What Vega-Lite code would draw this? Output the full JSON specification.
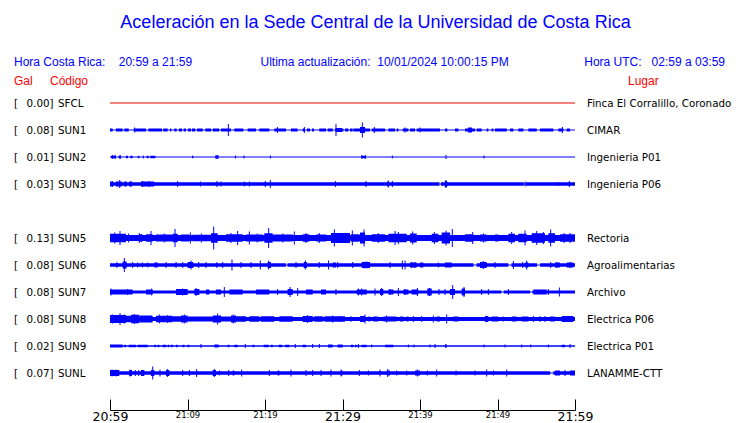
{
  "$schema": "https://vega.github.io/schema/vega-lite/v6.json",
  "width": 465,
  "height": 270,
  "autosize": {"type": "none"},
  "padding": {"left": 110, "top": 103, "right": 165, "bottom": 50},
  "background": "#ffffff",
  "config": {"view": {"stroke": null}, "font": "DejaVu Sans"},
  "datasets": {
    "stations": [
      {"s": "SFCL", "gal": 0.00, "lugar": "Finca El Corralillo, Coronado", "ruido": 1, "estado": "sin datos"},
      {"s": "SUN1", "gal": 0.08, "lugar": "CIMAR", "ruido": 1, "estado": "activa"},
      {"s": "SUN2", "gal": 0.01, "lugar": "Ingenieria P01", "ruido": 1.2, "estado": "activa"},
      {"s": "SUN3", "gal": 0.03, "lugar": "Ingenieria P06", "ruido": 1, "estado": "activa"},
      {"s": "SUN5", "gal": 0.13, "lugar": "Rectoria", "ruido": 6, "estado": "activa"},
      {"s": "SUN6", "gal": 0.08, "lugar": "Agroalimentarias", "ruido": 1, "estado": "activa"},
      {"s": "SUN7", "gal": 0.08, "lugar": "Archivo", "ruido": 1, "estado": "activa"},
      {"s": "SUN8", "gal": 0.08, "lugar": "Electrica P06", "ruido": 4, "estado": "activa"},
      {"s": "SUN9", "gal": 0.02, "lugar": "Electrica P01", "ruido": 1.3, "estado": "activa"},
      {"s": "SUNL", "gal": 0.07, "lugar": "LANAMME-CTT", "ruido": 1, "estado": "activa"}
    ],
    "seg": [
      {"s":"SUN1","a":0,"b":0.34,"w":3},{"s":"SUN1","a":0.77,"b":1.63,"w":3},{"s":"SUN1","a":1.85,"b":2.41,"w":3},{"s":"SUN1","a":3.05,"b":4.65,"w":3},{"s":"SUN1","a":4.95,"b":6.71,"w":3},{"s":"SUN1","a":6.88,"b":7.44,"w":3},{"s":"SUN1","a":7.74,"b":7.91,"w":3},{"s":"SUN1","a":8.3,"b":8.6,"w":3},{"s":"SUN1","a":8.9,"b":9.29,"w":3},{"s":"SUN1","a":9.5,"b":9.8,"w":3},{"s":"SUN1","a":10.06,"b":10.45,"w":3},{"s":"SUN1","a":10.58,"b":11.01,"w":3},{"s":"SUN1","a":11.23,"b":11.96,"w":3},{"s":"SUN1","a":12.3,"b":13.03,"w":3},{"s":"SUN1","a":13.25,"b":14.1,"w":3},{"s":"SUN1","a":14.32,"b":15.6,"w":3},{"s":"SUN1","a":16.04,"b":17.2,"w":3},{"s":"SUN1","a":17.76,"b":18.84,"w":3},{"s":"SUN1","a":19.27,"b":20.56,"w":3},{"s":"SUN1","a":21.2,"b":22.71,"w":3},{"s":"SUN1","a":23.35,"b":24.2,"w":3},{"s":"SUN1","a":24.86,"b":25.16,"w":3},{"s":"SUN1","a":25.42,"b":25.8,"w":3},{"s":"SUN1","a":26.06,"b":26.32,"w":3},{"s":"SUN1","a":27.0,"b":27.87,"w":3},{"s":"SUN1","a":28.09,"b":28.73,"w":3},{"s":"SUN1","a":29.08,"b":29.94,"w":4},{"s":"SUN1","a":29.94,"b":30.11,"w":3},{"s":"SUN1","a":30.33,"b":30.76,"w":3},{"s":"SUN1","a":30.97,"b":31.31,"w":3},{"s":"SUN1","a":31.4,"b":33.55,"w":3},{"s":"SUN1","a":32.26,"b":32.91,"w":6},{"s":"SUN1","a":33.77,"b":35.49,"w":3},{"s":"SUN1","a":35.92,"b":36.78,"w":3},{"s":"SUN1","a":36.99,"b":37.21,"w":3},{"s":"SUN1","a":37.77,"b":38.5,"w":3},{"s":"SUN1","a":38.71,"b":39.36,"w":3},{"s":"SUN1","a":39.57,"b":42.58,"w":3},{"s":"SUN1","a":43.23,"b":43.53,"w":3},{"s":"SUN1","a":44.52,"b":44.95,"w":3},{"s":"SUN1","a":45.81,"b":47.1,"w":3},{"s":"SUN1","a":46.2,"b":46.7,"w":5},{"s":"SUN1","a":47.31,"b":47.96,"w":3},{"s":"SUN1","a":48.6,"b":48.82,"w":3},{"s":"SUN1","a":49.25,"b":49.47,"w":3},{"s":"SUN1","a":49.68,"b":51.19,"w":3},{"s":"SUN1","a":51.62,"b":52.05,"w":3},{"s":"SUN1","a":52.69,"b":53.34,"w":3},{"s":"SUN1","a":53.98,"b":55.06,"w":3},{"s":"SUN1","a":55.49,"b":57.21,"w":3},{"s":"SUN1","a":57.85,"b":58.5,"w":3},{"s":"SUN1","a":58.93,"b":59.36,"w":3},

      {"s":"SUN2","a":0.13,"b":0.77,"w":2.5},{"s":"SUN2","a":1.12,"b":1.42,"w":2.5},{"s":"SUN2","a":2.06,"b":2.32,"w":2.5},{"s":"SUN2","a":2.62,"b":2.92,"w":2.5},{"s":"SUN2","a":3.57,"b":3.78,"w":2.5},{"s":"SUN2","a":4.73,"b":4.99,"w":2.5},{"s":"SUN2","a":5.2,"b":5.85,"w":2.5},{"s":"SUN2","a":10.58,"b":10.75,"w":2.5},{"s":"SUN2","a":13.59,"b":14.02,"w":3.5},{"s":"SUN2","a":32.48,"b":32.99,"w":2.5},

      {"s":"SUN3","a":0,"b":42.5,"w":3.5},{"s":"SUN3","a":42.7,"b":53.4,"w":3.5},{"s":"SUN3","a":53.6,"b":60,"w":3.5},{"s":"SUN3","a":0,"b":0.34,"w":5},{"s":"SUN3","a":0.77,"b":1.55,"w":5},{"s":"SUN3","a":1.85,"b":2.15,"w":5},{"s":"SUN3","a":2.49,"b":2.84,"w":5},{"s":"SUN3","a":4.0,"b":5.72,"w":5},{"s":"SUN3","a":35.83,"b":36.0,"w":6},{"s":"SUN3","a":43.2,"b":43.5,"w":6},

      {"s":"SUN5","a":0,"b":2.06,"w":8.5},{"s":"SUN5","a":3.78,"b":4.2,"w":7.5},{"s":"SUN5","a":4.65,"b":5.5,"w":7.5},{"s":"SUN5","a":5.94,"b":8.1,"w":7},{"s":"SUN5","a":8.1,"b":8.73,"w":8.5},{"s":"SUN5","a":9.16,"b":10.24,"w":7},{"s":"SUN5","a":10.67,"b":13.0,"w":6.5},{"s":"SUN5","a":13.03,"b":13.9,"w":9.5},{"s":"SUN5","a":14.97,"b":17.12,"w":7.5},{"s":"SUN5","a":17.55,"b":19.7,"w":7},{"s":"SUN5","a":19.91,"b":20.99,"w":9.5},{"s":"SUN5","a":20.99,"b":23.57,"w":7},{"s":"SUN5","a":24.86,"b":25.72,"w":7.5},{"s":"SUN5","a":26.58,"b":27.87,"w":7},{"s":"SUN5","a":28.52,"b":29.81,"w":10},{"s":"SUN5","a":29.68,"b":30.97,"w":10},{"s":"SUN5","a":31.1,"b":32.2,"w":7.5},{"s":"SUN5","a":32.26,"b":32.91,"w":11},{"s":"SUN5","a":33.77,"b":35.49,"w":7.5},{"s":"SUN5","a":35.92,"b":38.28,"w":8.5},{"s":"SUN5","a":38.71,"b":39.57,"w":9},{"s":"SUN5","a":41.51,"b":42.37,"w":8.5},{"s":"SUN5","a":42.8,"b":43.87,"w":11},{"s":"SUN5","a":45.81,"b":46.88,"w":7.5},{"s":"SUN5","a":47.74,"b":48.6,"w":7},{"s":"SUN5","a":49.68,"b":50.11,"w":7},{"s":"SUN5","a":51.4,"b":52.26,"w":8.5},{"s":"SUN5","a":52.69,"b":53.77,"w":8.5},{"s":"SUN5","a":54.41,"b":56.13,"w":9.5},{"s":"SUN5","a":56.56,"b":57.42,"w":9.5},{"s":"SUN5","a":58.07,"b":60,"w":7.5},

      {"s":"SUN6","a":0,"b":22.7,"w":3.5},{"s":"SUN6","a":22.9,"b":46.9,"w":3.5},{"s":"SUN6","a":47.3,"b":51.4,"w":3.5},{"s":"SUN6","a":51.8,"b":55.1,"w":3.5},{"s":"SUN6","a":55.5,"b":60,"w":3.5},{"s":"SUN6","a":0.77,"b":0.99,"w":5},{"s":"SUN6","a":1.63,"b":2.15,"w":7},{"s":"SUN6","a":5.72,"b":6.15,"w":5},{"s":"SUN6","a":10.02,"b":10.75,"w":6},{"s":"SUN6","a":13.68,"b":13.89,"w":5},{"s":"SUN6","a":20.34,"b":20.77,"w":6},{"s":"SUN6","a":25.0,"b":25.4,"w":6},{"s":"SUN6","a":28.73,"b":29.16,"w":5},{"s":"SUN6","a":32.48,"b":33.55,"w":6},{"s":"SUN6","a":38.71,"b":39.57,"w":5},{"s":"SUN6","a":40.0,"b":40.43,"w":5},{"s":"SUN6","a":43.23,"b":44.09,"w":5},{"s":"SUN6","a":47.74,"b":48.6,"w":6},{"s":"SUN6","a":53.55,"b":53.98,"w":5},{"s":"SUN6","a":57.42,"b":58.07,"w":5},{"s":"SUN6","a":58.93,"b":59.79,"w":5},

      {"s":"SUN7","a":0,"b":50.5,"w":3},{"s":"SUN7","a":50.8,"b":54.2,"w":3},{"s":"SUN7","a":54.5,"b":60,"w":3},{"s":"SUN7","a":0,"b":2.92,"w":5},{"s":"SUN7","a":4.65,"b":5.5,"w":5},{"s":"SUN7","a":8.52,"b":10.02,"w":6},{"s":"SUN7","a":10.88,"b":11.53,"w":6},{"s":"SUN7","a":12.39,"b":12.82,"w":5},{"s":"SUN7","a":13.68,"b":14.32,"w":5},{"s":"SUN7","a":15.4,"b":17.12,"w":5},{"s":"SUN7","a":18.84,"b":20.56,"w":5},{"s":"SUN7","a":22.92,"b":23.57,"w":6},{"s":"SUN7","a":25.29,"b":26.15,"w":5},{"s":"SUN7","a":27.23,"b":27.87,"w":5},{"s":"SUN7","a":31.83,"b":33.12,"w":5},{"s":"SUN7","a":34.84,"b":35.27,"w":6},{"s":"SUN7","a":35.92,"b":36.56,"w":5},{"s":"SUN7","a":37.85,"b":38.5,"w":5},{"s":"SUN7","a":38.93,"b":39.79,"w":5},{"s":"SUN7","a":40.95,"b":41.51,"w":7},{"s":"SUN7","a":43.87,"b":44.52,"w":6},{"s":"SUN7","a":45.38,"b":45.81,"w":7},{"s":"SUN7","a":54.63,"b":56.35,"w":5},

      {"s":"SUN8","a":0,"b":2.06,"w":8},{"s":"SUN8","a":2.06,"b":2.71,"w":6.5},{"s":"SUN8","a":2.71,"b":3.78,"w":8.5},{"s":"SUN8","a":3.78,"b":5.5,"w":7},{"s":"SUN8","a":5.94,"b":8.09,"w":6.5},{"s":"SUN8","a":8.09,"b":9.16,"w":5.5},{"s":"SUN8","a":9.16,"b":10.02,"w":7},{"s":"SUN8","a":10.02,"b":13.25,"w":5},{"s":"SUN8","a":13.25,"b":14.32,"w":7},{"s":"SUN8","a":14.32,"b":15.61,"w":5},{"s":"SUN8","a":15.61,"b":16.26,"w":7},{"s":"SUN8","a":16.26,"b":17.55,"w":5.5},{"s":"SUN8","a":17.98,"b":19.27,"w":5.5},{"s":"SUN8","a":19.48,"b":21.2,"w":5.5},{"s":"SUN8","a":21.85,"b":23.57,"w":5.5},{"s":"SUN8","a":24.86,"b":26.15,"w":6},{"s":"SUN8","a":26.37,"b":27.44,"w":5.5},{"s":"SUN8","a":27.66,"b":29.81,"w":5.5},{"s":"SUN8","a":29.68,"b":30.33,"w":5.5},{"s":"SUN8","a":30.97,"b":31.19,"w":5},{"s":"SUN8","a":32.26,"b":32.91,"w":6},{"s":"SUN8","a":33.34,"b":33.55,"w":5},{"s":"SUN8","a":33.98,"b":34.63,"w":5},{"s":"SUN8","a":35.27,"b":36.99,"w":5},{"s":"SUN8","a":37.42,"b":37.85,"w":5},{"s":"SUN8","a":38.28,"b":38.5,"w":5},{"s":"SUN8","a":42.15,"b":42.58,"w":5},{"s":"SUN8","a":44.3,"b":44.95,"w":5},{"s":"SUN8","a":48.39,"b":48.82,"w":6},{"s":"SUN8","a":49.25,"b":50.11,"w":5},{"s":"SUN8","a":51.83,"b":52.48,"w":5},{"s":"SUN8","a":53.12,"b":53.98,"w":5},{"s":"SUN8","a":56.78,"b":57.42,"w":5},{"s":"SUN8","a":58.28,"b":59.79,"w":6},

      {"s":"SUN9","a":0,"b":1.63,"w":3},{"s":"SUN9","a":1.85,"b":2.06,"w":2.5},{"s":"SUN9","a":2.41,"b":3.35,"w":2.5},{"s":"SUN9","a":3.57,"b":4.86,"w":2.5},{"s":"SUN9","a":5.72,"b":5.94,"w":2.5},{"s":"SUN9","a":6.15,"b":6.37,"w":2.5},{"s":"SUN9","a":6.8,"b":7.23,"w":2.5},{"s":"SUN9","a":7.44,"b":7.66,"w":2.5},{"s":"SUN9","a":7.87,"b":8.09,"w":2.5},{"s":"SUN9","a":8.52,"b":8.73,"w":2.5},{"s":"SUN9","a":9.38,"b":9.59,"w":2.5},{"s":"SUN9","a":10.02,"b":10.24,"w":2.5},{"s":"SUN9","a":13.46,"b":14.02,"w":3},{"s":"SUN9","a":15.18,"b":15.4,"w":2.5},{"s":"SUN9","a":16.04,"b":16.47,"w":2.5},{"s":"SUN9","a":18.41,"b":18.62,"w":2.5},{"s":"SUN9","a":19.83,"b":20.47,"w":2.5},{"s":"SUN9","a":20.77,"b":20.99,"w":2.5},{"s":"SUN9","a":21.76,"b":22.19,"w":2.5},{"s":"SUN9","a":22.62,"b":23.14,"w":2.5},{"s":"SUN9","a":24.86,"b":25.29,"w":2.5},{"s":"SUN9","a":28.13,"b":28.73,"w":3},{"s":"SUN9","a":29.38,"b":30.02,"w":3},{"s":"SUN9","a":31.1,"b":31.4,"w":2.5},{"s":"SUN9","a":31.62,"b":31.83,"w":2.5},{"s":"SUN9","a":32.48,"b":33.12,"w":2.5},{"s":"SUN9","a":35.49,"b":36.56,"w":2.5},{"s":"SUN9","a":43.23,"b":43.44,"w":3.5},{"s":"SUN9","a":58.28,"b":58.71,"w":2.5},

      {"s":"SUNL","a":0,"b":56.8,"w":3.5},{"s":"SUNL","a":57.2,"b":60,"w":3.5},{"s":"SUNL","a":0,"b":1.2,"w":6},{"s":"SUNL","a":2.49,"b":2.84,"w":6},{"s":"SUNL","a":4.0,"b":4.43,"w":6},{"s":"SUNL","a":5.29,"b":5.72,"w":6},{"s":"SUNL","a":7.23,"b":7.66,"w":6},{"s":"SUNL","a":13.25,"b":13.68,"w":6},{"s":"SUNL","a":15.83,"b":16.04,"w":5},{"s":"SUNL","a":21.63,"b":21.85,"w":5},{"s":"SUNL","a":35.7,"b":36.13,"w":5},{"s":"SUNL","a":39.36,"b":40.0,"w":5},{"s":"SUNL","a":57.42,"b":58.07,"w":5},{"s":"SUNL","a":59.36,"b":60,"w":5}
    ],
    "spk": [
      {"s":"SUN1","t":3.18,"h":5},{"s":"SUN1","t":15.27,"h":12},{"s":"SUN1","t":21.6,"h":6},{"s":"SUN1","t":25.08,"h":6},{"s":"SUN1","t":29.16,"h":12},{"s":"SUN1","t":32.56,"h":15},{"s":"SUN1","t":34.11,"h":6},{"s":"SUN1","t":38.07,"h":5},{"s":"SUN1","t":40.0,"h":5},{"s":"SUN1","t":58.37,"h":6},
      {"s":"SUN2","t":0.34,"h":4},{"s":"SUN2","t":0.65,"h":4},{"s":"SUN2","t":1.3,"h":4},{"s":"SUN2","t":4.3,"h":3},{"s":"SUN2","t":16.2,"h":3},{"s":"SUN2","t":17.3,"h":3},{"s":"SUN2","t":20.7,"h":3},{"s":"SUN2","t":32.5,"h":4},{"s":"SUN2","t":32.95,"h":4},{"s":"SUN2","t":36.43,"h":3},{"s":"SUN2","t":43.36,"h":4},{"s":"SUN2","t":48.26,"h":3},
      {"s":"SUN3","t":0.34,"h":6},{"s":"SUN3","t":1.25,"h":8},{"s":"SUN3","t":1.98,"h":5},{"s":"SUN3","t":2.7,"h":5},{"s":"SUN3","t":4.2,"h":6},{"s":"SUN3","t":5.07,"h":6},{"s":"SUN3","t":8.73,"h":6},{"s":"SUN3","t":11.66,"h":5},{"s":"SUN3","t":13.8,"h":6},{"s":"SUN3","t":14.32,"h":5},{"s":"SUN3","t":17.33,"h":5},{"s":"SUN3","t":17.98,"h":5},{"s":"SUN3","t":20.04,"h":6},{"s":"SUN3","t":20.69,"h":8},{"s":"SUN3","t":29.08,"h":6},{"s":"SUN3","t":33.03,"h":6},{"s":"SUN3","t":35.9,"h":7},{"s":"SUN3","t":36.43,"h":6},{"s":"SUN3","t":43.36,"h":8},{"s":"SUN3","t":53.55,"h":5},{"s":"SUN3","t":57.85,"h":4},{"s":"SUN3","t":59.27,"h":6},
      {"s":"SUN5","t":1.29,"h":14},{"s":"SUN5","t":0.6,"h":11},{"s":"SUN5","t":2.4,"h":9},{"s":"SUN5","t":3.78,"h":10},{"s":"SUN5","t":5.29,"h":14},{"s":"SUN5","t":7.0,"h":9},{"s":"SUN5","t":8.39,"h":18},{"s":"SUN5","t":10.37,"h":11},{"s":"SUN5","t":11.8,"h":9},{"s":"SUN5","t":13.38,"h":23},{"s":"SUN5","t":15.6,"h":10},{"s":"SUN5","t":16.47,"h":14},{"s":"SUN5","t":17.98,"h":13},{"s":"SUN5","t":19.0,"h":9},{"s":"SUN5","t":20.47,"h":20},{"s":"SUN5","t":22.3,"h":9},{"s":"SUN5","t":23.78,"h":13},{"s":"SUN5","t":25.29,"h":10},{"s":"SUN5","t":27.0,"h":10},{"s":"SUN5","t":28.95,"h":17},{"s":"SUN5","t":31.27,"h":15},{"s":"SUN5","t":32.78,"h":17},{"s":"SUN5","t":34.6,"h":10},{"s":"SUN5","t":36.78,"h":14},{"s":"SUN5","t":37.21,"h":12},{"s":"SUN5","t":39.06,"h":13},{"s":"SUN5","t":41.85,"h":12},{"s":"SUN5","t":43.36,"h":15},{"s":"SUN5","t":44.17,"h":18},{"s":"SUN5","t":46.8,"h":12},{"s":"SUN5","t":48.2,"h":9},{"s":"SUN5","t":51.83,"h":12},{"s":"SUN5","t":53.55,"h":15},{"s":"SUN5","t":55.06,"h":14},{"s":"SUN5","t":55.92,"h":12},{"s":"SUN5","t":56.86,"h":17},{"s":"SUN5","t":58.6,"h":10},{"s":"SUN5","t":59.36,"h":10},
      {"s":"SUN6","t":1.85,"h":14},{"s":"SUN6","t":2.92,"h":6},{"s":"SUN6","t":3.57,"h":5},{"s":"SUN6","t":4.21,"h":5},{"s":"SUN6","t":4.86,"h":5},{"s":"SUN6","t":7.23,"h":6},{"s":"SUN6","t":8.52,"h":6},{"s":"SUN6","t":9.38,"h":6},{"s":"SUN6","t":10.45,"h":9},{"s":"SUN6","t":11.44,"h":6},{"s":"SUN6","t":12.39,"h":6},{"s":"SUN6","t":14.54,"h":6},{"s":"SUN6","t":15.74,"h":11},{"s":"SUN6","t":16.9,"h":6},{"s":"SUN6","t":18.19,"h":6},{"s":"SUN6","t":19.4,"h":9},{"s":"SUN6","t":20.47,"h":9},{"s":"SUN6","t":24.0,"h":6},{"s":"SUN6","t":25.2,"h":9},{"s":"SUN6","t":27.0,"h":6},{"s":"SUN6","t":28.2,"h":9},{"s":"SUN6","t":29.38,"h":6},{"s":"SUN6","t":31.31,"h":6},{"s":"SUN6","t":32.78,"h":7},{"s":"SUN6","t":33.12,"h":7},{"s":"SUN6","t":36.13,"h":6},{"s":"SUN6","t":37.72,"h":9},{"s":"SUN6","t":38.07,"h":9},{"s":"SUN6","t":38.93,"h":6},{"s":"SUN6","t":39.36,"h":6},{"s":"SUN6","t":42.37,"h":5},{"s":"SUN6","t":48.17,"h":8},{"s":"SUN6","t":49.68,"h":6},{"s":"SUN6","t":52.05,"h":8},{"s":"SUN6","t":53.25,"h":6},{"s":"SUN6","t":53.77,"h":9},{"s":"SUN6","t":56.86,"h":6},{"s":"SUN6","t":57.64,"h":6},{"s":"SUN6","t":59.36,"h":6},
      {"s":"SUN7","t":0.13,"h":7},{"s":"SUN7","t":2.28,"h":6},{"s":"SUN7","t":5.38,"h":7},{"s":"SUN7","t":9.38,"h":7},{"s":"SUN7","t":11.1,"h":8},{"s":"SUN7","t":14.75,"h":10},{"s":"SUN7","t":21.63,"h":6},{"s":"SUN7","t":23.23,"h":10},{"s":"SUN7","t":24.22,"h":8},{"s":"SUN7","t":29.16,"h":6},{"s":"SUN7","t":32.05,"h":7},{"s":"SUN7","t":32.48,"h":7},{"s":"SUN7","t":34.2,"h":7},{"s":"SUN7","t":35.06,"h":8},{"s":"SUN7","t":36.13,"h":6},{"s":"SUN7","t":37.21,"h":8},{"s":"SUN7","t":38.07,"h":6},{"s":"SUN7","t":39.66,"h":8},{"s":"SUN7","t":41.21,"h":8},{"s":"SUN7","t":42.45,"h":6},{"s":"SUN7","t":43.23,"h":6},{"s":"SUN7","t":44.22,"h":14},{"s":"SUN7","t":45.68,"h":10},{"s":"SUN7","t":47.96,"h":6},{"s":"SUN7","t":48.82,"h":6},{"s":"SUN7","t":51.4,"h":6},{"s":"SUN7","t":56.56,"h":6},{"s":"SUN7","t":57.98,"h":9},
      {"s":"SUN8","t":0.34,"h":9},{"s":"SUN8","t":1.29,"h":12},{"s":"SUN8","t":1.85,"h":9},{"s":"SUN8","t":3.14,"h":10},{"s":"SUN8","t":6.37,"h":9},{"s":"SUN8","t":7.44,"h":8},{"s":"SUN8","t":9.59,"h":9},{"s":"SUN8","t":13.89,"h":11},{"s":"SUN8","t":15.91,"h":9},{"s":"SUN8","t":25.5,"h":8},{"s":"SUN8","t":28.73,"h":7},{"s":"SUN8","t":32.91,"h":9},{"s":"SUN8","t":35.7,"h":7},{"s":"SUN8","t":39.14,"h":6},{"s":"SUN8","t":40.22,"h":6},{"s":"SUN8","t":41.72,"h":7},{"s":"SUN8","t":43.44,"h":9},{"s":"SUN8","t":50.76,"h":5},{"s":"SUN8","t":54.63,"h":6},{"s":"SUN8","t":55.49,"h":6},{"s":"SUN8","t":56.13,"h":6},
      {"s":"SUN9","t":11.74,"h":4},{"s":"SUN9","t":17.46,"h":4},{"s":"SUN9","t":23.91,"h":4},{"s":"SUN9","t":26.15,"h":4},{"s":"SUN9","t":27.01,"h":4},{"s":"SUN9","t":32.05,"h":4},{"s":"SUN9","t":33.77,"h":3},{"s":"SUN9","t":38.5,"h":3},{"s":"SUN9","t":39.23,"h":3},{"s":"SUN9","t":41.29,"h":3},{"s":"SUN9","t":41.94,"h":4},{"s":"SUN9","t":48.26,"h":3},{"s":"SUN9","t":50.97,"h":3},{"s":"SUN9","t":53.12,"h":3},{"s":"SUN9","t":54.28,"h":3},{"s":"SUN9","t":56.56,"h":3},{"s":"SUN9","t":59.36,"h":4},
      {"s":"SUNL","t":0.26,"h":7},{"s":"SUNL","t":0.77,"h":7},{"s":"SUNL","t":2.58,"h":7},{"s":"SUNL","t":3.27,"h":6},{"s":"SUNL","t":3.7,"h":6},{"s":"SUNL","t":4.13,"h":6},{"s":"SUNL","t":5.51,"h":13},{"s":"SUNL","t":6.45,"h":7},{"s":"SUNL","t":7.4,"h":8},{"s":"SUNL","t":9.38,"h":6},{"s":"SUNL","t":10.24,"h":6},{"s":"SUNL","t":11.18,"h":8},{"s":"SUNL","t":13.46,"h":8},{"s":"SUNL","t":14.11,"h":5},{"s":"SUNL","t":15.31,"h":6},{"s":"SUNL","t":16.99,"h":7},{"s":"SUNL","t":20.56,"h":6},{"s":"SUNL","t":23.35,"h":7},{"s":"SUNL","t":25.29,"h":6},{"s":"SUNL","t":26.15,"h":6},{"s":"SUNL","t":27.23,"h":6},{"s":"SUNL","t":28.52,"h":7},{"s":"SUNL","t":29.81,"h":7},{"s":"SUNL","t":29.9,"h":6},{"s":"SUNL","t":32.17,"h":6},{"s":"SUNL","t":33.34,"h":5},{"s":"SUNL","t":34.84,"h":7},{"s":"SUNL","t":35.83,"h":8},{"s":"SUNL","t":36.99,"h":5},{"s":"SUNL","t":38.28,"h":5},{"s":"SUNL","t":39.66,"h":7},{"s":"SUNL","t":40.95,"h":5},{"s":"SUNL","t":42.15,"h":7},{"s":"SUNL","t":44.65,"h":5},{"s":"SUNL","t":47.1,"h":5},{"s":"SUNL","t":48.6,"h":7},{"s":"SUNL","t":49.47,"h":5},{"s":"SUNL","t":51.19,"h":7},{"s":"SUNL","t":58.71,"h":6}
    ]
  },
  "layer": [
    {
      "data": {"name": "stations"},
      "mark": {"type": "rule"},
      "encoding": {
        "y": {"field": "s", "type": "nominal", "axis": null,
              "scale": {"type": "point", "padding": 0, "domain": ["SFCL","SUN1","SUN2","SUN3","SUN4","SUN5","SUN6","SUN7","SUN8","SUN9","SUNL"]}},
        "x": {"datum": 0, "type": "quantitative"},
        "x2": {"datum": 60},
        "size": {"field": "ruido", "type": "quantitative", "scale": {"domain": [0, 30], "range": [0, 30]}, "legend": null},
        "color": {"field": "estado", "type": "nominal", "scale": {"domain": ["sin datos", "activa"], "range": ["#ee0000", "#0000ff"]}, "legend": null}
      }
    },
    {
      "data": {"name": "seg"},
      "mark": {"type": "rule", "color": "#0000ff"},
      "encoding": {
        "y": {"field": "s", "type": "nominal", "axis": null},
        "x": {"field": "a", "type": "quantitative",
              "scale": {"domain": [0, 60], "nice": false, "zero": false},
              "axis": {
                "values": [0,5,10,15,20,25,30,35,40,45,50,55,60],
                "labelExpr": "format(floor((1259 + datum.value) / 60), '02d') + ':' + format((1259 + datum.value) % 60, '02d')",
                "title": null, "grid": false, "offset": 37,
                "domainColor": "#000000", "domainWidth": 1,
                "tickColor": "#000000", "tickWidth": 1, "tickSize": -11,
                "labelFont": "DejaVu Sans", "labelColor": "#000000",
                "labelFontSize": {"condition": {"test": "datum.value % 30 === 0", "value": 12.5}, "value": 8.5},
                "labelBaseline": "top", "labelPadding": 11.5,
                "labelFlush": false, "labelOverlap": false, "labelBound": false
              }},
        "x2": {"field": "b"},
        "size": {"field": "w", "type": "quantitative", "scale": {"domain": [0, 30], "range": [0, 30]}, "legend": null}
      }
    },
    {
      "data": {"name": "spk"},
      "mark": {"type": "tick", "color": "#0000ff", "thickness": 1, "opacity": 1},
      "encoding": {
        "y": {"field": "s", "type": "nominal", "axis": null},
        "x": {"field": "t", "type": "quantitative", "axis": {"title": null}},
        "size": {"field": "h", "type": "quantitative", "scale": {"domain": [0, 30], "range": [0, 30]}, "legend": null}
      }
    },
    {
      "data": {"name": "stations"},
      "mark": {"type": "text", "align": "left", "baseline": "middle", "dx": -96, "dy": 0.5, "font": "DejaVu Sans", "fontSize": 10.3, "color": "#000000"},
      "encoding": {
        "y": {"field": "s", "type": "nominal", "axis": null},
        "x": {"datum": 0, "type": "quantitative"},
        "text": {"value": "["}
      }
    },
    {
      "data": {"name": "stations"},
      "mark": {"type": "text", "align": "right", "baseline": "middle", "dx": -60.5, "dy": 0.5, "font": "DejaVu Sans", "fontSize": 10.3, "color": "#000000"},
      "encoding": {
        "y": {"field": "s", "type": "nominal", "axis": null},
        "x": {"datum": 0, "type": "quantitative"},
        "text": {"field": "gal", "type": "quantitative", "format": ".2f"}
      }
    },
    {
      "data": {"name": "stations"},
      "mark": {"type": "text", "align": "left", "baseline": "middle", "dx": -60.5, "dy": 0.5, "font": "DejaVu Sans", "fontSize": 10.3, "color": "#000000"},
      "encoding": {
        "y": {"field": "s", "type": "nominal", "axis": null},
        "x": {"datum": 0, "type": "quantitative"},
        "text": {"value": "]"}
      }
    },
    {
      "data": {"name": "stations"},
      "mark": {"type": "text", "align": "left", "baseline": "middle", "dx": -52, "dy": 0.5, "font": "DejaVu Sans", "fontSize": 10.3, "color": "#000000"},
      "encoding": {
        "y": {"field": "s", "type": "nominal", "axis": null},
        "x": {"datum": 0, "type": "quantitative"},
        "text": {"field": "s", "type": "nominal"}
      }
    },
    {
      "data": {"name": "stations"},
      "mark": {"type": "text", "align": "left", "baseline": "middle", "dx": 12, "dy": 0.5, "font": "DejaVu Sans", "fontSize": 10.3, "color": "#000000"},
      "encoding": {
        "y": {"field": "s", "type": "nominal", "axis": null},
        "x": {"datum": 60, "type": "quantitative"},
        "text": {"field": "lugar", "type": "nominal"}
      }
    },
    {
      "data": {"values": [{"texto": "Aceleración en la Sede Central de la Universidad de Costa Rica"}]},
      "mark": {"type": "text", "align": "center", "baseline": "middle", "dx": 33, "dy": -80.5, "font": "Liberation Sans", "fontSize": 18, "color": "#0000ff"},
      "encoding": {
        "y": {"datum": "SFCL", "type": "nominal", "axis": null},
        "x": {"datum": 30, "type": "quantitative"},
        "text": {"field": "texto", "type": "nominal"}
      }
    },
    {
      "data": {"values": [{"texto": "Hora Costa Rica:\u00a0\u00a0\u00a0\u00a020:59 a 21:59"}]},
      "mark": {"type": "text", "align": "left", "baseline": "middle", "dx": -96, "dy": -41.5, "font": "Liberation Sans", "fontSize": 12, "color": "#0000ff"},
      "encoding": {
        "y": {"datum": "SFCL", "type": "nominal", "axis": null},
        "x": {"datum": 0, "type": "quantitative"},
        "text": {"field": "texto", "type": "nominal"}
      }
    },
    {
      "data": {"values": [{"texto": "Ultima actualización:\u00a0\u00a010/01/2024 10:00:15 PM"}]},
      "mark": {"type": "text", "align": "left", "baseline": "middle", "dx": -82, "dy": -41.5, "font": "Liberation Sans", "fontSize": 12, "color": "#0000ff"},
      "encoding": {
        "y": {"datum": "SFCL", "type": "nominal", "axis": null},
        "x": {"datum": 30, "type": "quantitative"},
        "text": {"field": "texto", "type": "nominal"}
      }
    },
    {
      "data": {"values": [{"texto": "Hora UTC:\u00a0\u00a0\u00a002:59 a 03:59"}]},
      "mark": {"type": "text", "align": "right", "baseline": "middle", "dx": 150, "dy": -41.5, "font": "Liberation Sans", "fontSize": 12, "color": "#0000ff"},
      "encoding": {
        "y": {"datum": "SFCL", "type": "nominal", "axis": null},
        "x": {"datum": 60, "type": "quantitative"},
        "text": {"field": "texto", "type": "nominal"}
      }
    },
    {
      "data": {"values": [{"texto": "Gal"}]},
      "mark": {"type": "text", "align": "left", "baseline": "middle", "dx": -96, "dy": -22.5, "font": "Liberation Sans", "fontSize": 12, "color": "#ff0000"},
      "encoding": {
        "y": {"datum": "SFCL", "type": "nominal", "axis": null},
        "x": {"datum": 0, "type": "quantitative"},
        "text": {"field": "texto", "type": "nominal"}
      }
    },
    {
      "data": {"values": [{"texto": "Código"}]},
      "mark": {"type": "text", "align": "left", "baseline": "middle", "dx": -60, "dy": -22.5, "font": "Liberation Sans", "fontSize": 12, "color": "#ff0000"},
      "encoding": {
        "y": {"datum": "SFCL", "type": "nominal", "axis": null},
        "x": {"datum": 0, "type": "quantitative"},
        "text": {"field": "texto", "type": "nominal"}
      }
    },
    {
      "data": {"values": [{"texto": "Lugar"}]},
      "mark": {"type": "text", "align": "left", "baseline": "middle", "dx": 53, "dy": -22.5, "font": "Liberation Sans", "fontSize": 12, "color": "#ff0000"},
      "encoding": {
        "y": {"datum": "SFCL", "type": "nominal", "axis": null},
        "x": {"datum": 60, "type": "quantitative"},
        "text": {"field": "texto", "type": "nominal"}
      }
    }
  ]
}
